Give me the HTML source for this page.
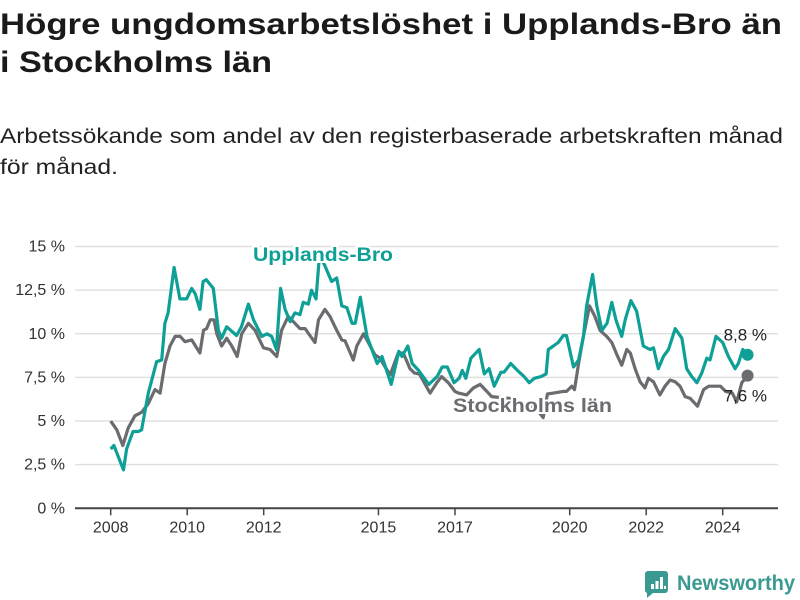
<!DOCTYPE html>
<html><head><meta charset="utf-8"><style>
html,body{margin:0;padding:0;background:#fff;}
svg{display:block;font-family:"Liberation Sans",sans-serif;}
</style></head><body>
<svg id="chart" width="800" height="600" viewBox="0 0 800 600">
<text x="0" y="34" font-size="30" font-weight="bold" fill="#1a1a1a" textLength="782" lengthAdjust="spacingAndGlyphs">Högre ungdomsarbetslöshet i Upplands-Bro än</text>
<text x="0" y="72" font-size="30" font-weight="bold" fill="#1a1a1a" textLength="272" lengthAdjust="spacingAndGlyphs">i Stockholms län</text>
<text x="0" y="143" font-size="21" fill="#222" textLength="783" lengthAdjust="spacingAndGlyphs">Arbetssökande som andel av den registerbaserade arbetskraften månad</text>
<text x="0" y="174" font-size="21" fill="#222" textLength="118" lengthAdjust="spacingAndGlyphs">för månad.</text>
<g id="grid"></g><g id="xaxis"></g><g id="lines"></g>
<g>
<path d="M648,571 h17 a3,3 0 0 1 3,3 v16 a3,3 0 0 1 -3,3 h-12 l-6,5 v-5 a3,3 0 0 1 -2,-3 v-16 a3,3 0 0 1 3,-3z" fill="#3a9a92"/>
<rect x="651" y="584" width="3" height="5" fill="#fff"/><rect x="655.5" y="581" width="3" height="8" fill="#fff"/><rect x="660" y="577" width="3" height="12" fill="#fff"/><rect x="664" y="586" width="2" height="3" fill="#fff"/>
<text x="677" y="590" font-size="21" font-weight="bold" fill="#3a9a92" textLength="118" lengthAdjust="spacingAndGlyphs">Newsworthy</text>
</g>
</svg>
<script>
const yTicks=[0,2.5,5,7.5,10,12.5,15];
const yTickLabels=["0 %","2,5 %","5 %","7,5 %","10 %","12,5 %","15 %"];
const xTickYears=[2008,2010,2012,2015,2017,2020,2022,2024];
const uppMonths=[0,1,4,5,7,8.7,9.7,11.8,14.4,16,17,18,19.9,21.7,23.8,25.4,26.5,28,29,30,32.2,33.8,34.8,36.4,39.5,41,43.2,44.8,47.4,49,50.5,52,53.3,54.7,56.3,57.8,59.4,60.4,62,63,64.4,65.5,67.2,69.3,70.9,72.5,74.1,75.7,76.7,78.3,80.4,83.6,85.1,88,90.4,91.4,93.2,94.6,96.6,99.8,102.4,104,105.6,107.7,109.3,110.3,111.4,113,115.6,117.2,118.7,120.3,122.4,123.4,125.5,127.6,129.7,131.3,132.9,135,136.6,137.3,138.9,140.4,142,143,145.2,146.8,148.3,149.3,151.2,152.5,154.1,155.7,157.2,158.5,160.3,161.4,163.2,165,167.1,169.2,170.3,171.8,173.4,175,177.1,179.2,180.7,182.3,183.9,185.4,187,188,189.9,192,193.8,195.9,196.9,198.3,199.8];
const uppValues=[3.4,3.6,2.2,3.4,4.4,4.4,4.5,6.6,8.4,8.5,10.6,11.2,13.8,12.0,12.0,12.6,12.3,11.4,13.0,13.1,12.6,10.2,9.75,10.4,9.9,10.4,11.7,10.8,9.85,10.0,9.85,9.1,12.6,11.4,10.7,11.2,11.1,11.8,11.7,12.5,12.0,14.5,13.9,13.0,13.2,11.6,11.5,10.6,10.6,12.1,9.85,8.3,8.7,7.1,9.0,8.7,9.3,8.3,7.9,7.1,7.55,8.1,8.1,7.2,7.45,7.9,7.45,8.6,9.1,7.7,8.0,7.0,7.8,7.8,8.3,7.9,7.55,7.2,7.45,7.55,7.7,9.1,9.3,9.5,9.9,9.9,8.1,8.5,9.85,11.6,13.4,11.6,10.2,10.6,11.8,10.8,9.85,10.8,11.9,11.3,9.3,9.1,9.2,8.0,8.7,9.1,10.3,9.75,8.0,7.55,7.2,7.75,8.6,8.5,9.85,9.5,8.7,8.0,8.3,9.1,8.8];
const sthMonths=[0,1.9,3.8,5.5,7.6,9.7,11.8,13.9,15.5,17,18.6,20.2,21.8,23.3,25.4,28,29.1,30.1,31.2,32.4,33.3,34.8,36.4,38,39.7,41.1,43.2,45.3,47.9,50,52.1,53.6,55.7,57.3,59.4,61,62.5,64.1,65.2,67.2,68.8,70.9,72.5,73.5,76.1,77.2,79.3,80.8,82.9,84.5,86.1,87.7,90.2,91.8,93.9,95.3,96.8,100.2,102.3,103.8,105.9,108,109.1,111.7,113.8,115.9,118,119.5,125,130,134,135.7,137,138.9,142,143,144.7,145.5,146.8,148.3,150.2,151.9,153.5,155.6,157.2,158.8,160.3,161.9,163,164.6,166.1,167.6,168.7,170.3,172.3,173.9,175.5,177.1,178.6,180.2,181.8,184.1,186,187.6,191.3,192.9,195,196.4,198,199.8];
const sthValues=[5.0,4.5,3.6,4.6,5.3,5.5,6.0,6.8,6.6,8.3,9.3,9.85,9.85,9.55,9.65,8.9,10.2,10.3,10.8,10.8,10.0,9.3,9.75,9.3,8.7,10.0,10.6,10.2,9.2,9.1,8.7,10.2,11.0,10.7,10.3,10.3,9.9,9.5,10.8,11.4,11.0,10.2,9.65,9.6,8.5,9.3,10.0,9.5,8.8,8.6,8.1,7.65,8.9,8.9,8.0,7.75,7.7,6.6,7.2,7.55,7.2,6.7,6.6,6.5,6.9,7.1,6.7,6.4,6.3,6.0,5.6,5.2,6.55,6.6,6.7,6.7,7.0,6.8,8.3,9.85,11.6,11.0,10.2,9.85,9.5,8.8,8.2,9.1,8.9,7.95,7.25,6.9,7.45,7.25,6.5,7.0,7.35,7.25,7.0,6.4,6.3,5.85,6.8,7.0,7.0,6.7,6.6,6.1,7.2,7.6];
const endLabels=["8,8 %","7,6 %"];

const NS="http://www.w3.org/2000/svg";
const X0=110.7,PXY=38.25,Y0=508.3,PXV=17.45,XL=75,XR=778;
function xm(m){return X0+m/12*PXY;}
function xy(yr){return X0+(yr-2008)*PXY;}
function yv(v){return Y0-v*PXV;}
function mk(tag,attrs,parent){const e=document.createElementNS(NS,tag);for(const k in attrs)e.setAttribute(k,attrs[k]);parent.appendChild(e);return e;}
const grid=document.getElementById('grid'),xa=document.getElementById('xaxis'),lines=document.getElementById('lines');
yTicks.forEach((t,i)=>{
  if(t>0){const l=mk('line',{x1:XL,x2:XR,y1:yv(t),y2:yv(t),stroke:'#e0e0e0','stroke-width':1.5},grid);
  
  }
  const tx=mk('text',{x:65,y:yv(t)+5,'text-anchor':'end','font-size':16,fill:'#333'},grid);
  tx.textContent=yTickLabels[i];
  
  
});
const ax=mk('line',{x1:XL,x2:XR,y1:Y0,y2:Y0,stroke:'#444','stroke-width':2},xa);


xTickYears.forEach(yr=>{
  const x=xy(yr);
  const tk=mk('line',{x1:x,x2:x,y1:Y0,y2:Y0+7,stroke:'#444','stroke-width':1.5},xa);
  
  
  const tx=mk('text',{x:x,y:Y0+24,'text-anchor':'middle','font-size':16,fill:'#333'},xa);
  tx.textContent=yr;
  
  
});
function series(ms,vs,color,name){
  const d=ms.map((m,i)=>(i?'L':'M')+xm(m).toFixed(1)+','+yv(vs[i]).toFixed(1)).join('');
  const p=mk('path',{d:d,fill:'none',stroke:color,'stroke-width':3.2,'stroke-linejoin':'round'},lines);
  
  
  const n=ms.length-1;
  const c=mk('circle',{cx:xm(ms[n]),cy:yv(vs[n]),r:6,fill:color},lines);
  
  
  return [xm(ms[n]),yv(vs[n])];
}
const pS=series(sthMonths,sthValues,'#6b6b70','stockholm');
const pU=series(uppMonths,uppValues,'#0ea096','upplands-bro');
function lbl(x,y,txt,opts,name){const t=mk('text',Object.assign({x:x,y:y},opts),lines);t.textContent=txt;
  
  return t;}
lbl(253,261,'Upplands-Bro',{'font-size':19,'font-weight':'bold',fill:'#0ea096',stroke:'#fff','stroke-width':4,'paint-order':'stroke',textLength:140,lengthAdjust:'spacingAndGlyphs'},'upplands-bro-label');
lbl(453,412,'Stockholms län',{'font-size':19,'font-weight':'bold',fill:'#6b6b70',stroke:'#fff','stroke-width':4,'paint-order':'stroke',textLength:159,lengthAdjust:'spacingAndGlyphs'},'stockholm-label');
lbl(pU[0]-24,pU[1]-14,endLabels[0],{'font-size':17,fill:'#222'},'upplands-bro-end-value');
lbl(pS[0]-24,pS[1]+26,endLabels[1],{'font-size':17,fill:'#222'},'stockholm-end-value');
</script>
</body></html>
